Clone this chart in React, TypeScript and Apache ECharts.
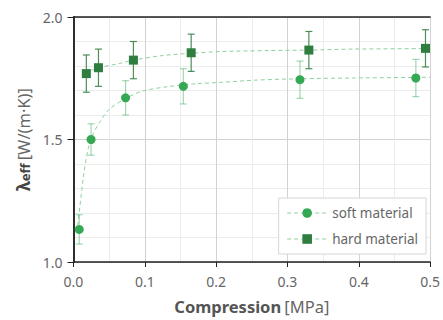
import React, { useEffect, useRef } from "react";
import * as echarts from "echarts";

const softX = [0.008, 0.0246, 0.073, 0.154, 0.3175, 0.48];
const softY = [1.133, 1.5, 1.67, 1.717, 1.744, 1.751];
const softErr = [0.06, 0.064, 0.07, 0.072, 0.076, 0.076];

const hardX = [0.018, 0.035, 0.084, 0.165, 0.33, 0.4935];
const hardY = [1.769, 1.793, 1.824, 1.854, 1.865, 1.872];
const hardErr = [0.076, 0.076, 0.076, 0.076, 0.076, 0.076];

const softFitX = [0.005, 0.0135, 0.0204, 0.027, 0.0366, 0.05, 0.073, 0.096, 0.133, 0.174, 0.206, 0.253, 0.317, 0.391, 0.5];
const softFitY = [1.12, 1.339, 1.46, 1.52, 1.57, 1.623, 1.667, 1.697, 1.716, 1.728, 1.733, 1.742, 1.748, 1.751, 1.754];

const hardFitX = [0.025, 0.035, 0.064, 0.084, 0.123, 0.165, 0.206, 0.275, 0.33, 0.391, 0.5];
const hardFitY = [1.782, 1.793, 1.81, 1.824, 1.842, 1.852, 1.859, 1.863, 1.865, 1.869, 1.871];

const xTicks = ["0.0", "0.1", "0.2", "0.3", "0.4", "0.5"];
const yTicks = ["1.0", "1.5", "2.0"];

const SOFT = "#34a853";
const HARD = "#2f7d3f";
const FIT = "#8fd19e";
const FONT = "Noto Sans";

function zip(xs: number[], ys: number[]) {
  return xs.map((x, i) => [x, ys[i]]);
}

function errBars(name: string, xs: number[], ys: number[], es: number[], color: string) {
  return {
    name,
    type: "custom",
    z: 3,
    data: xs.map((x, i) => [x, ys[i] - es[i], ys[i] + es[i]]),
    renderItem: (params: any, api: any) => {
      const lo = api.coord([api.value(0), api.value(1)]);
      const hi = api.coord([api.value(0), api.value(2)]);
      const w = 3.5;
      const style = { stroke: color, lineWidth: 1.2 };
      return {
        type: "group",
        children: [
          { type: "line", shape: { x1: lo[0], y1: lo[1], x2: hi[0], y2: hi[1] }, style },
          { type: "line", shape: { x1: lo[0] - w, y1: lo[1], x2: lo[0] + w, y2: lo[1] }, style },
          { type: "line", shape: { x1: hi[0] - w, y1: hi[1], x2: hi[0] + w, y2: hi[1] }, style },
        ],
      };
    },
  };
}

export default function App() {
  const ref = useRef<HTMLDivElement>(null);
  useEffect(() => {
    const chart = echarts.init(ref.current!, null, { renderer: "svg" });
    const axisLine = { show: true, lineStyle: { color: "#222", width: 1.5 } };
    chart.setOption({
      animation: false,
      textStyle: { fontFamily: FONT },
      grid: { left: 73.5, right: 7.5, top: 17, bottom: 56.5 },
      legend: {
        orient: "vertical",
        right: 17,
        bottom: 66,
        backgroundColor: "#fff",
        borderColor: "#d6d6d6",
        borderWidth: 1,
        borderRadius: 0,
        padding: [8, 8, 8, 8],
        itemGap: 12,
        itemWidth: 40,
        itemHeight: 12,
        textStyle: { fontSize: 13.5, color: "#666", fontFamily: FONT },
        data: [
          { name: "soft material", lineStyle: { color: FIT, width: 1, type: [4, 3], opacity: 1 } },
          { name: "hard material", lineStyle: { color: FIT, width: 1, type: [4, 3], opacity: 1 } },
        ],
      },
      xAxis: [
        {
          type: "value",
          min: 0,
          max: 0.5,
          interval: 0.1,
          axisLine,
          axisTick: { show: true, length: 5, lineStyle: { color: "#222" } },
          axisLabel: {
            margin: 12,
            fontSize: 14,
            color: "#666",
            fontFamily: FONT,
            formatter: (v: number) => xTicks[Math.round(v * 10)] ?? "",
          },
          splitLine: { show: true, lineStyle: { color: "#d2d2d2", width: 1 } },
          minorTick: { show: false, splitNumber: 2 },
          minorSplitLine: { show: true, lineStyle: { color: "#ececec", width: 1 } },
          name: "{b|Compression} {n|[MPa]}",
          nameLocation: "middle",
          nameGap: 36,
          nameTextStyle: {
            rich: {
              b: { fontSize: 16.5, fontWeight: "bold", color: "#555", fontFamily: FONT },
              n: { fontSize: 16.5, color: "#666", fontFamily: FONT },
            },
          },
        },
        {
          type: "value",
          position: "top",
          min: 0,
          max: 0.5,
          axisLine,
          axisTick: { show: false },
          axisLabel: { show: false },
          splitLine: { show: false },
        },
      ],
      yAxis: [
        {
          type: "value",
          min: 1,
          max: 2,
          interval: 0.5,
          axisLine,
          axisTick: { show: true, length: 6, lineStyle: { color: "#222" } },
          axisLabel: {
            margin: 11,
            fontSize: 14,
            color: "#666",
            fontFamily: FONT,
            formatter: (v: number) => yTicks[Math.round((v - 1) * 2)] ?? "",
          },
          splitLine: { show: true, lineStyle: { color: "#d2d2d2", width: 1 } },
          minorTick: { show: false, splitNumber: 5 },
          minorSplitLine: { show: true, lineStyle: { color: "#ececec", width: 1 } },
          name: "{b|λ}{s|eff} {n|[W/(m·K)]}",
          nameLocation: "middle",
          nameGap: 42,
          nameRotate: 90,
          nameTextStyle: {
            rich: {
              b: { fontSize: 17, fontWeight: "bold", color: "#444", fontFamily: FONT },
              s: { fontSize: 13, fontWeight: "bold", color: "#444", fontFamily: FONT, verticalAlign: "bottom" },
              n: { fontSize: 16.5, color: "#666", fontFamily: FONT },
            },
          },
        },
        {
          type: "value",
          position: "right",
          min: 1,
          max: 2,
          axisLine,
          axisTick: { show: false },
          axisLabel: { show: false },
          splitLine: { show: false },
        },
      ],
      series: [
        {
          name: "soft fit",
          type: "line",
          data: zip(softFitX, softFitY),
          symbol: "none",
          smooth: 0.3,
          z: 2,
          lineStyle: { color: FIT, width: 1, type: [4, 3] },
        },
        {
          name: "hard fit",
          type: "line",
          data: zip(hardFitX, hardFitY),
          symbol: "none",
          smooth: 0.3,
          z: 2,
          lineStyle: { color: FIT, width: 1, type: [4, 3] },
        },
        errBars("soft err", softX, softY, softErr, "rgba(52,168,83,0.45)"),
        errBars("hard err", hardX, hardY, hardErr, "rgba(47,125,63,0.85)"),
        {
          name: "soft material",
          type: "line",
          data: zip(softX, softY),
          symbol: "circle",
          symbolSize: 9,
          z: 4,
          itemStyle: { color: SOFT },
          lineStyle: { opacity: 0, width: 0 },
        },
        {
          name: "hard material",
          type: "line",
          data: zip(hardX, hardY),
          symbol: "rect",
          symbolSize: 9,
          z: 4,
          itemStyle: { color: HARD },
          lineStyle: { opacity: 0, width: 0 },
        },
      ],
    });
    return () => chart.dispose();
  }, []);
  return <div ref={ref} style={{ width: 443, height: 320, position: "absolute", left: 0, top: 0 }} />;
}
